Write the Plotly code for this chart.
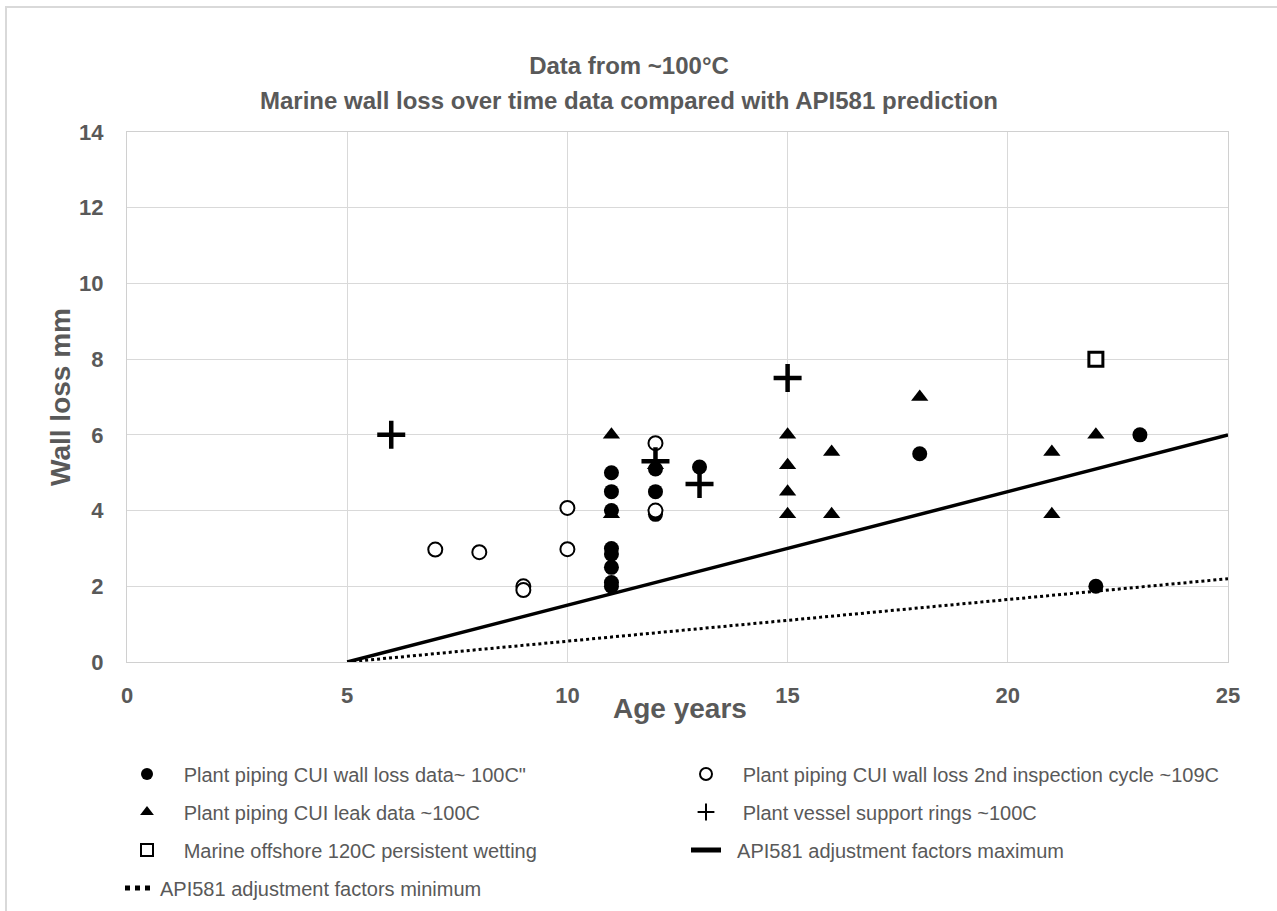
import plotly.graph_objects as go

# ---- data ----
wl_x = [11, 11, 11, 11, 11, 11, 11, 11, 12, 12, 12, 13, 18, 22, 23]
wl_y = [5.0, 4.5, 4.0, 3.0, 2.85, 2.5, 2.1, 2.0, 5.1, 4.5, 3.9, 5.15, 5.5, 2.0, 6.0]

insp2_x = [7, 8, 9, 9, 10, 10, 12, 12]
insp2_y = [2.97, 2.9, 2.0, 1.9, 4.07, 2.98, 5.78, 4.0]

leak_x = [11, 11, 12, 15, 15, 15, 15, 16, 16, 18, 21, 21, 22]
leak_y = [6.0, 3.9, 5.2, 6.0, 5.2, 4.5, 3.9, 5.55, 3.9, 7.0, 5.55, 3.9, 6.0]

ring_x = [6, 12, 13, 15]
ring_y = [6.0, 5.3, 4.7, 7.5]

marine_x = [22]
marine_y = [8.0]

apimax_x = [5, 25]
apimax_y = [0, 6.0]

apimin_x = [5, 25]
apimin_y = [0, 2.2]

names = [
    "Plant piping CUI wall loss data~ 100C\"",
    "Plant piping CUI wall loss 2nd inspection cycle ~109C",
    "Plant piping CUI leak data ~100C",
    "Plant vessel support rings ~100C",
    "Marine offshore 120C persistent wetting",
    "API581 adjustment factors maximum",
    "API581 adjustment factors minimum",
]
title_line1 = "Data from ~100°C"
title_line2 = "Marine wall loss over time data compared with API581 prediction"
x_title = "Age years"
y_title = "Wall loss mm"

GRAY = "#595959"
FONT = "Liberation Sans, Arial, sans-serif"
pad = "\u00a0\u00a0\u00a0"
pad_line = "\u00a0\u00a0"

fig = go.Figure()
fig.add_trace(go.Scatter(x=wl_x, y=wl_y, mode="markers", name=pad + names[0], legend="legend",
                         marker=dict(symbol="circle", size=15, color="black")))
fig.add_trace(go.Scatter(x=insp2_x, y=insp2_y, mode="markers", name=pad + names[1], legend="legend2",
                         marker=dict(symbol="circle", size=14, color="white",
                                     line=dict(color="black", width=2))))
fig.add_trace(go.Scatter(x=leak_x, y=leak_y, mode="markers", name=pad + names[2], legend="legend3",
                         marker=dict(symbol="triangle-up", size=15, color="black")))
fig.add_trace(go.Scatter(x=ring_x, y=ring_y, mode="markers", name=pad + names[3], legend="legend4",
                         marker=dict(symbol="cross-thin", size=20, color="black",
                                     line=dict(color="black", width=4.5))))
fig.add_trace(go.Scatter(x=marine_x, y=marine_y, mode="markers", name=pad + names[4], legend="legend5",
                         marker=dict(symbol="square", size=14, color="white",
                                     line=dict(color="black", width=3))))
fig.add_trace(go.Scatter(x=apimax_x, y=apimax_y, mode="lines", name=pad_line + names[5], legend="legend6",
                         line=dict(color="black", width=3.5)))
fig.add_trace(go.Scatter(x=apimin_x, y=apimin_y, mode="lines", name=names[6], legend="legend7",
                         line=dict(color="black", width=3, dash="dot")))

W, H = 1277, 911
col1, col2 = 127, 686
rows = [774, 812, 850, 888]
legend_pos = [(col1, rows[0]), (col2, rows[0]), (col1, rows[1]), (col2, rows[1]),
              (col1, rows[2]), (col2, rows[2]), (col1 - 7, rows[3])]

legend_font = dict(family=FONT, size=20, color=GRAY)
layout_legends = {}
for i, (px, py) in enumerate(legend_pos):
    key = "legend" if i == 0 else f"legend{i+1}"
    layout_legends[key] = dict(
        xref="container", yref="container", x=px / W, y=1 - py / H,
        xanchor="left", yanchor="middle", orientation="h",
        font=legend_font, bgcolor="rgba(0,0,0,0)", borderwidth=0,
        itemsizing="constant",
    )

TITLE_CX = 629

fig.update_layout(
    width=W, height=H,
    margin=dict(l=127, r=49, t=132, b=249),
    paper_bgcolor="white", plot_bgcolor="white",
    font=dict(family=FONT, color=GRAY),
    title=dict(
        text=title_line1,
        x=TITLE_CX / W, xanchor="center", xref="container", y=1 - 66 / H, yref="container", yanchor="middle",
        font=dict(family=FONT, size=24, color=GRAY, weight="bold"),
    ),
    xaxis=dict(
        range=[0, 25], dtick=5, tick0=0,
        showgrid=True, gridcolor="#d9d9d9", gridwidth=1,
        showline=True, linecolor="#d0d0d0", linewidth=1, mirror=True,
        zeroline=False, ticks="",
        tickfont=dict(family=FONT, size=22, color=GRAY, weight="bold"),
        ticklabelstandoff=14,
    ),
    yaxis=dict(
        range=[0, 14], dtick=2, tick0=0,
        showgrid=True, gridcolor="#d9d9d9", gridwidth=1,
        showline=True, linecolor="#d0d0d0", linewidth=1, mirror=True,
        zeroline=False, ticks="",
        tickfont=dict(family=FONT, size=22, color=GRAY, weight="bold"),
        ticklabelstandoff=18,
        title=dict(text=y_title, standoff=0,
                   font=dict(family=FONT, size=28, color=GRAY, weight="bold")),
    ),
    showlegend=True,
    **layout_legends,
)

fig.add_annotation(text=title_line2, xref="paper", yref="paper",
                   x=(TITLE_CX - 127) / 1101, y=(662 - 101) / 530, xanchor="center", yanchor="middle",
                   showarrow=False, font=dict(family=FONT, size=24, color=GRAY, weight="bold"))
fig.add_annotation(text=x_title, xref="paper", yref="paper",
                   x=(680 - 127) / 1101, y=(662 - 708) / 530, xanchor="center", yanchor="middle",
                   showarrow=False, font=dict(family=FONT, size=28, color=GRAY, weight="bold"))

# outer chart border (light gray frame)
fig.add_shape(type="rect", xref="paper", yref="paper",
              x0=(6 - 127) / 1101, x1=(1285 - 127) / 1101,
              y0=(662 - 925) / 530, y1=(662 - 7) / 530,
              line=dict(color="#d9d9d9", width=2), fillcolor="rgba(0,0,0,0)", layer="below")

fig.write_html("out.html")
